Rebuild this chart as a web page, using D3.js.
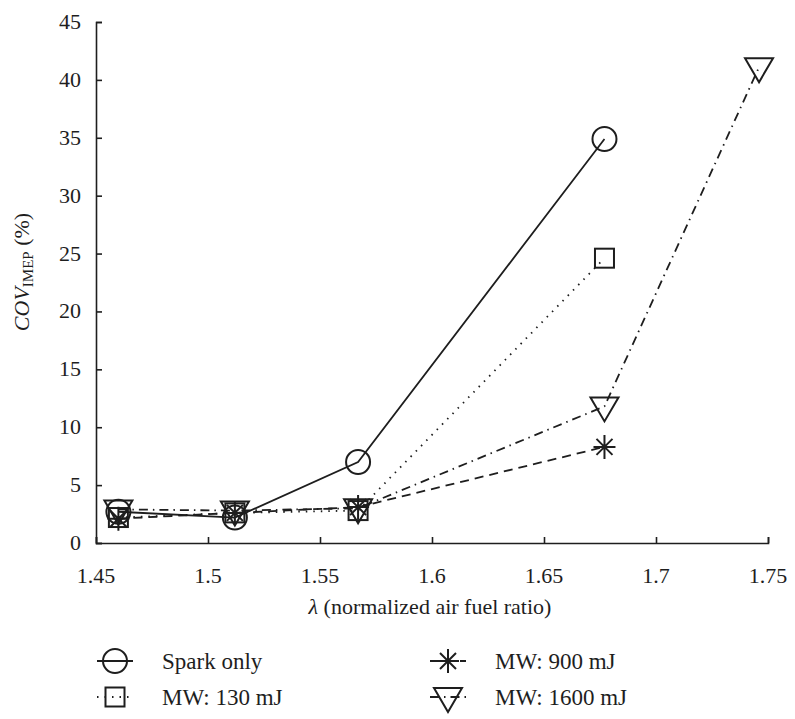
<!DOCTYPE html>
<html>
<head>
<meta charset="utf-8">
<script src="https://cdn.jsdelivr.net/npm/d3@7"></script>
</head>
<body style="margin:0">
<script>
// lambda values (x) and COV of IMEP (%) per series
const lambdaX = [1.46, 1.512, 1.567, 1.677];
const lambdaX1600 = [1.46, 1.512, 1.567, 1.677, 1.746];
const sparkOnly = [2.7, 2.2, 7.0, 34.9];
const mw130 = [2.2, 2.6, 2.8, 24.6];
const mw900 = [2.1, 2.6, 3.1, 8.3];
const mw1600 = [2.9, 2.8, 3.0, 11.8, 41.1];
const xTicks = [1.45, 1.5, 1.55, 1.6, 1.65, 1.7, 1.75];
const yTicks = [0, 5, 10, 15, 20, 25, 30, 35, 40, 45];
const seriesNames = ["Spark only", "MW: 130 mJ", "MW: 900 mJ", "MW: 1600 mJ"];

const width = 795, height = 719;
const margin = {left: 96, right: 27, top: 22, bottom: 176};
const ink = '#1e1e1e';
const serif = 'Liberation Serif';

const svg = d3.select('body').append('svg')
    .attr('width', width)
    .attr('height', height);

const x = d3.scaleLinear().domain([1.45, 1.75]).range([margin.left, width - margin.right]);
const y = d3.scaleLinear().domain([0, 45]).range([height - margin.bottom, margin.top]);

// axes, ticks pointing inward; labels drawn as own texts
const xAxis = svg.append('g')
    .attr('transform', `translate(0,${y(0)})`)
    .call(d3.axisBottom(x).tickValues(xTicks).tickSize(-6).tickFormat(''));
const yAxis = svg.append('g')
    .attr('transform', `translate(${x(1.45)},0)`)
    .call(d3.axisLeft(y).tickValues(yTicks).tickSize(-6).tickFormat(''));

[xAxis, yAxis].forEach(a => {
    a.selectAll('path, line').attr('stroke', ink).attr('stroke-width', 1.6);
    a.selectAll('text').remove();
});

svg.append('g').selectAll('text')
    .data(xTicks).enter().append('text')
    .attr('x', d => x(d)).attr('y', y(0) + 40)
    .attr('text-anchor', 'middle')
    .attr('font-size', 22).attr('fill', ink)
    .attr('font-family', serif)
    .text(d => d);

svg.append('g').selectAll('text')
    .data(yTicks).enter().append('text')
    .attr('x', x(1.45) - 15).attr('y', d => y(d) + 7)
    .attr('text-anchor', 'end')
    .attr('font-size', 22).attr('fill', ink)
    .attr('font-family', serif)
    .text(d => d);

// axis titles
const xt = svg.append('text')
    .attr('x', 430).attr('y', 614)
    .attr('text-anchor', 'middle')
    .attr('font-size', 22).attr('fill', ink)
    .attr('font-family', serif);
xt.append('tspan').attr('font-style', 'italic').text('λ');
xt.append('tspan').text(' (normalized air fuel ratio)');

const yt = svg.append('text')
    .attr('transform', 'translate(29,272) rotate(-90)')
    .attr('text-anchor', 'middle')
    .attr('font-size', 22).attr('fill', ink)
    .attr('font-family', serif);
yt.append('tspan').attr('font-style', 'italic').text('COV');
yt.append('tspan').attr('font-size', 15).attr('dy', 4).text('IMEP');
yt.append('tspan').attr('dy', -4).text(' (%)');

// marker shapes
const markers = {
    circle: g => g.append('circle').attr('r', 12),
    square: g => g.append('rect').attr('x', -9.5).attr('y', -9.5).attr('width', 19).attr('height', 19),
    star: g => g.append('path').attr('d', 'M0,-12V12M-11,0H11M-8,-8L8,8M-8,8L8,-8'),
    triangle: g => g.append('path').attr('d', 'M-14,-9H14L0,15Z')
};

const series = [
    {name: seriesNames[0], xs: lambdaX, ys: sparkOnly, dash: null, marker: 'circle'},
    {name: seriesNames[1], xs: lambdaX, ys: mw130, dash: '1.5,6', marker: 'square'},
    {name: seriesNames[2], xs: lambdaX, ys: mw900, dash: '9,6', marker: 'star'},
    {name: seriesNames[3], xs: lambdaX1600, ys: mw1600, dash: '9,5,1.5,5', marker: 'triangle'}
];

const line = d3.line().x(d => x(d[0])).y(d => y(d[1]));

series.forEach(s => {
    const pts = s.xs.map((v, i) => [v, s.ys[i]]);
    svg.append('path')
        .datum(pts)
        .attr('d', line)
        .attr('fill', 'none')
        .attr('stroke', ink)
        .attr('stroke-width', 1.8)
        .attr('stroke-dasharray', s.dash);
    svg.append('g').selectAll('g')
        .data(pts)
        .enter().append('g')
        .attr('transform', d => `translate(${x(d[0])},${y(d[1])})`)
        .each(function() { markers[s.marker](d3.select(this)); })
        .selectAll('*')
        .attr('fill', 'none').attr('stroke', ink).attr('stroke-width', 2);
});

// legend, two columns
const legendPos = [[97, 661], [97, 697], [430, 661], [430, 697]];
series.forEach((s, i) => {
    const [lx, ly] = legendPos[i];
    const g = svg.append('g').attr('transform', `translate(${lx},${ly})`);
    g.append('line')
        .attr('x1', 0).attr('x2', 36).attr('y1', 0).attr('y2', 0)
        .attr('stroke', ink).attr('stroke-width', 1.8)
        .attr('stroke-dasharray', s.dash);
    const mg = g.append('g').attr('transform', 'translate(18,0)');
    markers[s.marker](mg);
    mg.selectAll('*').attr('fill', 'none').attr('stroke', ink).attr('stroke-width', 2);
    g.append('text')
        .attr('x', 65).attr('y', 8)
        .attr('font-size', 23).attr('fill', ink)
        .attr('font-family', serif)
        .text(s.name);
});
</script>
</body>
</html>
